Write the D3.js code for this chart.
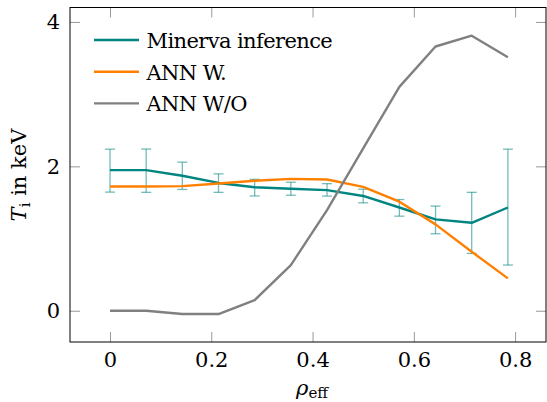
<!DOCTYPE html>
<html>
<head>
<meta charset="utf-8">
<script src="https://cdn.jsdelivr.net/npm/d3@7"></script>
<style>
body { margin: 0; background: #ffffff; }
svg { display: block; }
svg text { font-family: 'DejaVu Serif', 'Liberation Serif', serif !important; fill: #000000; }
.tickLabel text { font-size: 21px; }
</style>
</head>
<body>
<script>
// data
var rho = [0, 1/14, 2/14, 3/14, 4/14, 5/14, 6/14, 7/14, 8/14, 9/14, 10/14, 11/14];
var minerva = [1.947, 1.947, 1.87, 1.77, 1.71, 1.69, 1.67, 1.59, 1.43, 1.265, 1.218, 1.43];
var minervaUpper = [2.238, 2.24, 2.058, 1.896, 1.82, 1.78, 1.76, 1.684, 1.54, 1.45, 1.64, 2.238];
var minervaLower = [1.643, 1.64, 1.68, 1.64, 1.59, 1.60, 1.588, 1.495, 1.31, 1.066, 0.794, 0.633];
var annWith = [1.72, 1.72, 1.726, 1.763, 1.80, 1.827, 1.818, 1.716, 1.51, 1.196, 0.817, 0.448];
var annWithout = [0.0, 0.0, -0.046, -0.046, 0.148, 0.632, 1.394, 2.25, 3.10, 3.66, 3.81, 3.51];
var xTicks = [0, 0.2, 0.4, 0.6, 0.8];
var yTicks = [0, 2, 4];
var seriesNames = ["Minerva inference", "ANN W.", "ANN W/O"];

var WIDTH = 547;
var HEIGHT = 402;
var PLOT_LEFT = 70;
var PLOT_RIGHT = 546;
var PLOT_TOP = 7.5;
var PLOT_BOTTOM = 342;
var TICK_LENGTH = 10;

var TEAL = "#008580";
var ORANGE = "#ff8000";
var GRAY = "#808080";
var seriesColors = [TEAL, ORANGE, GRAY];

var svg = d3.select("body").append("svg")
	.attr("width", WIDTH)
	.attr("height", HEIGHT);

var x = d3.scaleLinear()
	.domain([-0.079, 0.861])
	.range([PLOT_LEFT, PLOT_RIGHT]);

var y = d3.scaleLinear()
	.domain([-0.433, 4.2])
	.range([PLOT_BOTTOM, PLOT_TOP]);

//axes, ticks pointing inwards on all four sides
function styleAxis(g) {
	g.attr("font-family", null).attr("font-size", null);
	g.select(".domain").remove();
	g.selectAll(".tick line")
		.attr("stroke", "#999999")
		.attr("stroke-width", 1);
}

svg.append("g")
	.attr("class", "tickLabel")
	.attr("transform", "translate(0," + PLOT_BOTTOM + ")")
	.call(d3.axisBottom(x).tickValues(xTicks).tickSizeInner(-TICK_LENGTH).tickSizeOuter(0).tickPadding(10)
		.tickFormat(function(d) { return d === 0 ? "0" : d3.format(".1f")(d); }))
	.call(styleAxis);

svg.append("g")
	.attr("transform", "translate(0," + PLOT_TOP + ")")
	.call(d3.axisTop(x).tickValues(xTicks).tickSizeInner(-TICK_LENGTH).tickSizeOuter(0).tickFormat(""))
	.call(styleAxis);

svg.append("g")
	.attr("class", "tickLabel")
	.attr("transform", "translate(" + PLOT_LEFT + ",0)")
	.call(d3.axisLeft(y).tickValues(yTicks).tickSizeInner(-TICK_LENGTH).tickSizeOuter(0).tickPadding(10)
		.tickFormat(d3.format("d")))
	.call(styleAxis);

svg.append("g")
	.attr("transform", "translate(" + PLOT_RIGHT + ",0)")
	.call(d3.axisRight(y).tickValues(yTicks).tickSizeInner(-TICK_LENGTH).tickSizeOuter(0).tickFormat(""))
	.call(styleAxis);

//frame
svg.append("rect")
	.attr("x", PLOT_LEFT)
	.attr("y", PLOT_TOP)
	.attr("width", PLOT_RIGHT - PLOT_LEFT)
	.attr("height", PLOT_BOTTOM - PLOT_TOP)
	.attr("fill", "none")
	.attr("stroke", "#000000")
	.attr("stroke-width", 1);

//error bars of the Minerva inference
var errorBars = svg.append("g")
	.attr("stroke", TEAL)
	.attr("stroke-opacity", 0.55)
	.attr("stroke-width", 1.3);

errorBars.selectAll(".errorBar")
	.data(rho)
	.enter()
	.append("g")
	.attr("class", "errorBar")
	.each(function(d, i) {
		var g = d3.select(this);
		g.append("line")
			.attr("x1", x(d)).attr("x2", x(d))
			.attr("y1", y(minervaUpper[i])).attr("y2", y(minervaLower[i]));
		g.append("line")
			.attr("x1", x(d) - 5).attr("x2", x(d) + 5)
			.attr("y1", y(minervaUpper[i])).attr("y2", y(minervaUpper[i]));
		g.append("line")
			.attr("x1", x(d) - 5).attr("x2", x(d) + 5)
			.attr("y1", y(minervaLower[i])).attr("y2", y(minervaLower[i]));
	});

//lines
var line = d3.line()
	.x(function(d, i) { return x(rho[i]); })
	.y(function(d) { return y(d); });

[minerva, annWith, annWithout].forEach(function(values, k) {
	svg.append("path")
		.datum(values)
		.attr("fill", "none")
		.attr("stroke", seriesColors[k])
		.attr("stroke-width", 2.4)
		.attr("stroke-linejoin", "round")
		.attr("d", line);
});

//legend
var legend = svg.append("g")
	.attr("transform", "translate(94,48)");

legend.selectAll(".legendEntry")
	.data(seriesNames)
	.enter()
	.append("g")
	.attr("class", "legendEntry")
	.attr("transform", function(d, i) {
		return "translate(0," + (i * 31.7) + ")";
	})
	.each(function(d, i) {
		d3.select(this)
			.append("line")
			.attr("x1", 0)
			.attr("x2", 45)
			.attr("y1", -8)
			.attr("y2", -8)
			.attr("stroke", seriesColors[i])
			.attr("stroke-width", 2.4);
		d3.select(this)
			.append("text")
			.attr("x", 52.5)
			.attr("y", 0)
			.attr("font-size", 21)
			.attr("letter-spacing", -0.6)
			.text(d);
	});

//axis labels
var xLabel = svg.append("text")
	.attr("x", 312)
	.attr("y", 395)
	.attr("text-anchor", "middle")
	.attr("font-size", 21);
xLabel.append("tspan")
	.attr("font-style", "italic")
	.text("ρ");
xLabel.append("tspan")
	.attr("font-size", 15)
	.attr("dy", 3)
	.text("eff");

var yLabel = svg.append("text")
	.attr("transform", "translate(26,175) rotate(-90)")
	.attr("text-anchor", "middle")
	.attr("font-size", 21);
yLabel.append("tspan")
	.attr("font-style", "italic")
	.text("T");
yLabel.append("tspan")
	.attr("font-size", 15)
	.attr("dy", 4)
	.text("i");
yLabel.append("tspan")
	.attr("dy", -4)
	.text(" in keV");
</script>
</body>
</html>
